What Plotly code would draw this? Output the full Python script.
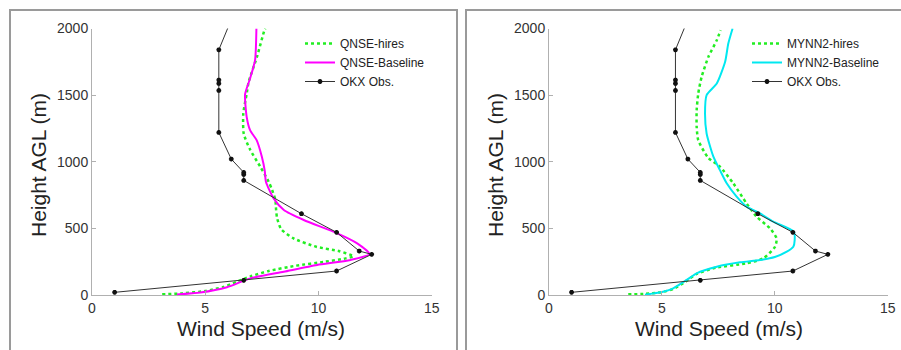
import plotly.graph_objects as go

# ---------------- data ----------------
obs_speed = [1.0, 6.7, 10.8, 12.35, 11.8, 10.8, 9.25, 6.7, 6.7, 6.7, 6.15, 5.6, 5.6, 5.6, 5.6, 5.6, 6.23]
obs_height = [20, 110, 180, 305, 330, 470, 610, 860, 905, 920, 1020, 1220, 1535, 1588, 1613, 1840, 2100]

qnse_hires_speed = [3.1, 4.0, 5.0, 5.8, 6.4, 7.0, 7.8, 9.0, 10.3, 11.2, 11.55, 10.9, 9.9, 8.9, 8.35, 8.17,
                    8.12, 8.1, 7.95, 7.8, 7.43, 6.99, 6.7, 6.68, 6.83, 6.92, 7.29, 7.6, 7.65]
qnse_hires_height = [5, 12, 30, 60, 100, 140, 180, 220, 250, 275, 290, 330, 362, 425, 495, 580,
                     660, 712, 790, 850, 963, 1088, 1210, 1360, 1510, 1600, 1790, 1980, 2000]

qnse_base_speed = [3.75, 4.78, 5.96, 6.99, 8.47, 9.94, 11.42, 12.25, 11.71, 10.83, 9.35, 8.47, 8.02,
                   7.68, 7.63, 7.5, 7.27, 6.98, 6.83, 6.76, 6.98, 7.2, 7.26]
qnse_base_height = [3, 18, 58, 125, 175, 225, 263, 308, 388, 463, 563, 638, 725,
                    850, 930, 1037, 1162, 1237, 1337, 1507, 1625, 1762, 2000]

mynn_hires_speed = [3.51, 4.18, 5.0, 5.5, 6.05, 6.5, 7.4, 8.75, 9.49, 10.01, 10.08, 9.79, 9.2, 8.75,
                    8.16, 7.57, 7.05, 6.61, 6.54, 6.54, 6.61, 6.76, 7.06, 7.43, 7.6]
mynn_hires_height = [5, 8, 22, 45, 100, 155, 205, 238, 275, 362, 425, 500, 587, 687,
                     838, 963, 1030, 1162, 1262, 1387, 1512, 1637, 1787, 1912, 1987]

mynn_base_speed = [4.25, 4.47, 5.06, 5.5, 6.1, 6.54, 7.43, 8.46, 9.34, 10.0, 10.53, 10.82, 10.88, 10.85,
                   9.93, 9.35, 8.75, 8.3, 7.87, 7.57, 7.28, 6.98, 6.91, 6.98, 7.43, 7.8, 7.94, 8.13]
mynn_base_height = [2, 8, 25, 50, 113, 163, 212, 245, 262, 285, 325, 362, 412, 475,
                    550, 612, 663, 740, 838, 937, 1038, 1212, 1362, 1500, 1587, 1750, 1887, 2000]

x_ticks = [0, 5, 10, 15]
y_ticks = [0, 500, 1000, 1500, 2000]

# ---------------- styles ----------------
W, H = 901, 350
GREEN = "#22ee22"
MAGENTA = "#ff00ff"
CYAN = "#00e8f0"
OBS = "#333333"
FONT = "Liberation Sans, Arial, sans-serif"

def obs_trace(xa, ya, leg):
    return go.Scatter(x=obs_speed, y=obs_height, mode="lines+markers", name="OKX Obs.",
                      line=dict(color=OBS, width=1),
                      marker=dict(symbol="asterisk-open", size=4, color="#111",
                                  line=dict(color="#111", width=1.5)),
                      xaxis=xa, yaxis=ya, legend=leg)

fig = go.Figure()
fig.add_trace(go.Scatter(x=qnse_hires_speed, y=qnse_hires_height, mode="lines", name="QNSE-hires",
                         line=dict(color=GREEN, width=2.5, dash="dot", shape="spline", smoothing=0.6),
                         xaxis="x", yaxis="y", legend="legend"))
fig.add_trace(go.Scatter(x=qnse_base_speed, y=qnse_base_height, mode="lines", name="QNSE-Baseline",
                         line=dict(color=MAGENTA, width=2, shape="spline", smoothing=0.6),
                         xaxis="x", yaxis="y", legend="legend"))
fig.add_trace(obs_trace("x", "y", "legend"))

fig.add_trace(go.Scatter(x=mynn_hires_speed, y=mynn_hires_height, mode="lines", name="MYNN2-hires",
                         line=dict(color=GREEN, width=2.5, dash="dot", shape="spline", smoothing=0.6),
                         xaxis="x2", yaxis="y2", legend="legend2"))
fig.add_trace(go.Scatter(x=mynn_base_speed, y=mynn_base_height, mode="lines", name="MYNN2-Baseline",
                         line=dict(color=CYAN, width=2, shape="spline", smoothing=0.6),
                         xaxis="x2", yaxis="y2", legend="legend2"))
fig.add_trace(obs_trace("x2", "y2", "legend2"))

ax_common = dict(showgrid=False, zeroline=False, showline=True, linecolor="#b0b0b0", linewidth=1,
                 ticks="inside", ticklen=4, tickcolor="#b0b0b0", mirror=False, automargin=False,
                 tickfont=dict(family=FONT, size=14, color="#333"))

ydom = [(H - 295) / H, (H - 28.5) / H]
leg_common = dict(xanchor="left", yanchor="top", bgcolor="rgba(0,0,0,0)",
                  font=dict(family=FONT, size=12, color="#222"), itemwidth=30, tracegroupgap=0)
fig.update_layout(
    width=W, height=H, margin=dict(l=0, r=0, t=0, b=0, autoexpand=False),
    paper_bgcolor="white", plot_bgcolor="white",
    font=dict(family=FONT, color="#222"),
    xaxis=dict(domain=[92 / W, 431.7 / W], range=[0, 15], tickvals=x_ticks, anchor="y", **ax_common),
    yaxis=dict(domain=ydom, range=[0, 2000], tickvals=y_ticks, anchor="x", **ax_common),
    xaxis2=dict(domain=[549 / W, 887.7 / W], range=[0, 15], tickvals=x_ticks, anchor="y2", **ax_common),
    yaxis2=dict(domain=ydom, range=[0, 2000], tickvals=y_ticks, anchor="x2", **ax_common),
    legend=dict(x=300 / W, y=(H - 29) / H, **leg_common),
    legend2=dict(x=747 / W, y=(H - 29) / H, **leg_common),
    showlegend=True,
)

# panel frames
for x0, x1 in [(10 / W, 457 / W), (466 / W, 1.05)]:
    fig.add_shape(type="rect", xref="paper", yref="paper", x0=x0, x1=x1, y0=-0.1, y1=(H - 10) / H,
                  line=dict(color="#9a9a9a", width=2), fillcolor="rgba(0,0,0,0)", layer="below")

# axis titles
for cx_y, cx_x in [(38, 261), (495, 718.5)]:
    fig.add_annotation(text="Height AGL (m)", xref="paper", yref="paper", x=cx_y / W, y=(H - 165) / H,
                       xanchor="center", yanchor="middle",
                       textangle=-90, showarrow=False, font=dict(family=FONT, size=21, color="#222"))
    fig.add_annotation(text="Wind Speed (m/s)", xref="paper", yref="paper", x=cx_x / W, y=(H - 328) / H,
                       xanchor="center", yanchor="middle",
                       showarrow=False, font=dict(family=FONT, size=21, color="#222"))

fig.write_html("out.html")
